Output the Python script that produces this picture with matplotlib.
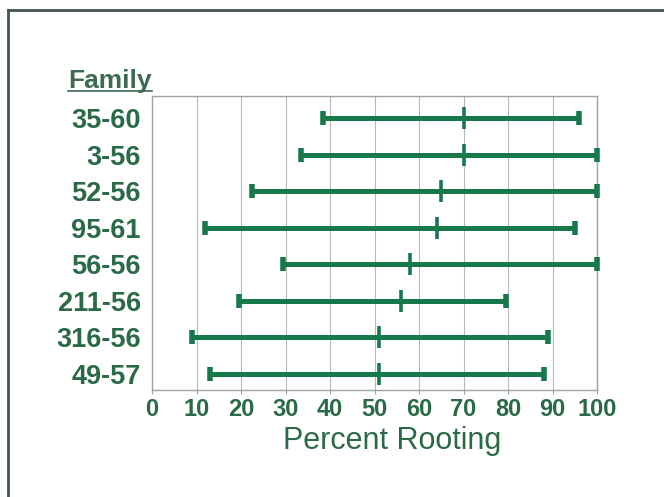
import matplotlib.pyplot as plt
from matplotlib.lines import Line2D

families = ["35-60", "3-56", "52-56", "95-61", "56-56", "211-56", "316-56", "49-57"]
low = [38.5, 33.5, 22.5, 12, 29.5, 19.5, 9, 13]
mean = [70, 70, 65, 64, 58, 56, 51, 51]
high = [96, 100, 100, 95, 100, 79.5, 89, 88]
xticks = list(range(0, 101, 10))

GREEN = "#17784c"
TEXT = "#2b6a46"
W, H = 664, 497

plt.rcParams["font.family"] = ["Liberation Sans", "DejaVu Sans"]
fig = plt.figure(figsize=(W / 100, H / 100), dpi=100)
fig.patch.set_facecolor("white")

ax = fig.add_axes([152 / W, 1 - 390 / H, (597 - 152) / W, (390 - 96) / H])
ys = list(range(len(families)))

for x in xticks[1:]:
    ax.axvline(x, color="#b3bcb7", lw=0.8, zorder=0)

ax.hlines(ys, low, high, color=GREEN, lw=3.6, zorder=3, clip_on=False)
ax.plot(low, ys, ls="none", marker="|", ms=10, mew=4, color=GREEN, zorder=4, clip_on=False)
ax.plot(high, ys, ls="none", marker="|", ms=10, mew=4, color=GREEN, zorder=4, clip_on=False)
ax.plot(mean, ys, ls="none", marker="|", ms=16, mew=2.6, color=GREEN, zorder=4, clip_on=False)

ax.set_xlim(0, 100)
ax.set_ylim(7.44, -0.6)
ax.set_xticks(xticks)
ax.set_yticks(ys)
ax.set_yticklabels(families)
ax.tick_params(axis="y", length=0, pad=8, labelsize=19.5, labelcolor=TEXT)
ax.tick_params(axis="x", length=3, color="#9aa5a0", pad=3, labelsize=17, labelcolor=TEXT)
for lab in ax.get_yticklabels() + ax.get_xticklabels():
    lab.set_fontweight("bold")
for s in ax.spines.values():
    s.set_color("#9aa5a0")
    s.set_linewidth(1.0)

fig.text(392 / W, 1 - 441 / H, "Percent Rooting", ha="center", va="center",
         fontsize=22, color=TEXT)

# "Family" header with underline
fam = fig.text(68 / W, 1 - 88 / H, "Family", ha="left", va="baseline",
               fontsize=19, fontweight="bold", color="#3d6b52")
fig.canvas.draw()
bb = fam.get_window_extent()
uy = 1 - 91 / H
fig.add_artist(Line2D([bb.x0 / W, bb.x1 / W], [uy, uy], color="#3d6b52", lw=1.2))

# outer frame: top and left edges
fig.add_artist(Line2D([8 / W, 1], [1 - 10 / H, 1 - 10 / H], color="#3f564b", lw=2))
fig.add_artist(Line2D([8 / W, 8 / W], [0, 1 - 10 / H], color="#3f564b", lw=2))

fig.savefig("out.png", dpi=100, facecolor="white")
